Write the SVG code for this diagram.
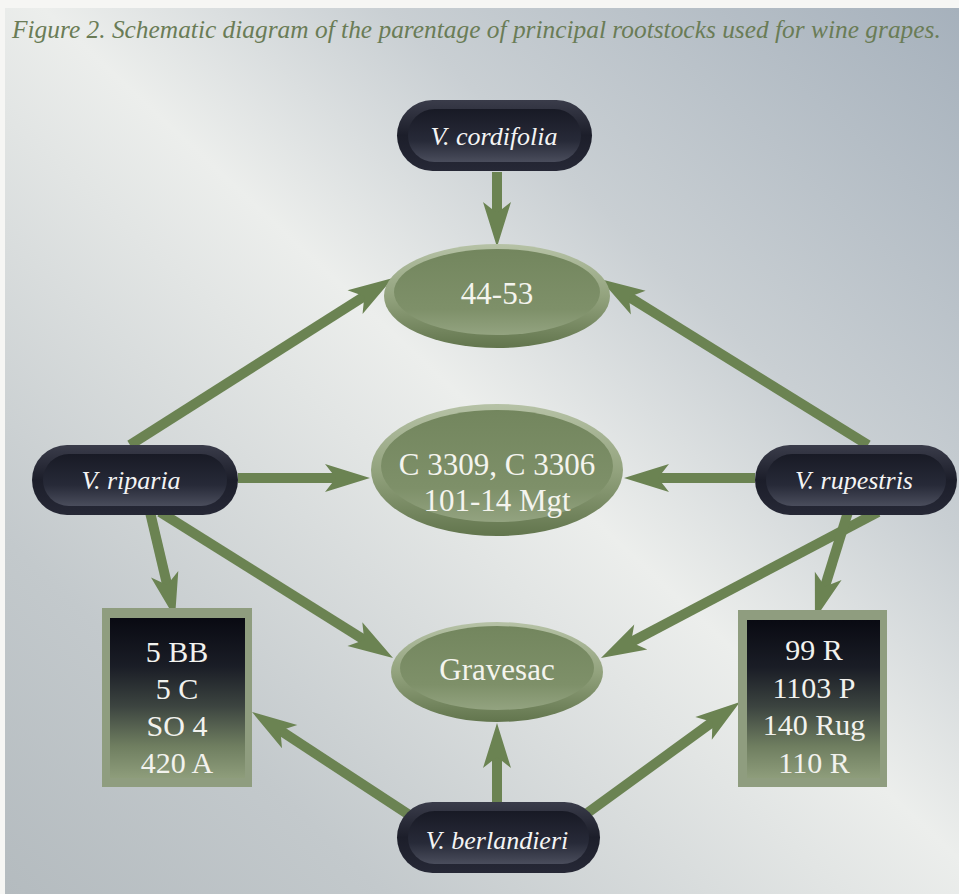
<svg xmlns="http://www.w3.org/2000/svg" width="959" height="894" viewBox="0 0 959 894">
<defs>
<linearGradient id="bg" x1="1" y1="0" x2="0" y2="1">
<stop offset="0" stop-color="#a6b1bc"/>
<stop offset="0.3" stop-color="#c9cfd3"/>
<stop offset="0.48" stop-color="#eceeec"/>
<stop offset="0.56" stop-color="#e2e5e4"/>
<stop offset="0.8" stop-color="#c3c9cc"/>
<stop offset="1" stop-color="#b4bbbf"/>
</linearGradient>
<linearGradient id="pillOuter" x1="0" y1="0" x2="0" y2="1">
<stop offset="0" stop-color="#3a3c4a"/>
<stop offset="0.5" stop-color="#1c1e2a"/>
<stop offset="1" stop-color="#262836"/>
</linearGradient>
<linearGradient id="pillInner" x1="0" y1="0" x2="0" y2="1">
<stop offset="0" stop-color="#181a25"/>
<stop offset="0.6" stop-color="#272a38"/>
<stop offset="1" stop-color="#4a4d5c"/>
</linearGradient>
<linearGradient id="ellOuter" x1="0" y1="0" x2="0" y2="1">
<stop offset="0" stop-color="#b6c2a6"/>
<stop offset="0.5" stop-color="#93a37e"/>
<stop offset="1" stop-color="#62754d"/>
</linearGradient>
<linearGradient id="ellInner" x1="0" y1="0" x2="0" y2="1">
<stop offset="0" stop-color="#73865e"/>
<stop offset="0.7" stop-color="#7e9069"/>
<stop offset="1" stop-color="#93a380"/>
</linearGradient>
<linearGradient id="boxInner" x1="0" y1="0" x2="0" y2="1">
<stop offset="0" stop-color="#090a12"/>
<stop offset="0.3" stop-color="#1a1d26"/>
<stop offset="0.55" stop-color="#3c4440"/>
<stop offset="0.8" stop-color="#6f7e60"/>
<stop offset="1" stop-color="#8e9d7b"/>
</linearGradient>
<marker id="ah" viewBox="-16 -15 48 30" markerWidth="48" markerHeight="30" refX="0" refY="0" orient="auto" markerUnits="userSpaceOnUse">
<path d="M30,0 L-15,-14 L-4,0 L-15,14 Z" fill="#6b8352"/>
</marker>
<style>
.conn line{stroke:#6b8352;stroke-width:10;marker-end:url(#ah)}
.pt{font-family:"Liberation Serif",serif;font-style:italic;font-size:26px;fill:#f4f4f4;text-anchor:middle}
.et{font-family:"Liberation Serif",serif;font-size:31px;fill:#f4f4ee;text-anchor:middle}
.bt{font-family:"Liberation Serif",serif;font-size:30px;fill:#f2f2ee;text-anchor:middle}
.tt{font-family:"Liberation Serif",serif;font-style:italic;font-size:25.4px;fill:#6a7c56}
.po{fill:url(#pillOuter)}
.pi{fill:url(#pillInner)}
.eo{fill:url(#ellOuter)}
.ei{fill:url(#ellInner)}
.bo{fill:#8f9d7f}
.bi{fill:url(#boxInner)}
</style>
</defs>
<rect x="0" y="0" width="959" height="894" fill="#f6f6f4"/>
<rect x="5" y="8" width="954" height="886" fill="url(#bg)"/>
<text class="tt" x="12" y="38">Figure 2. Schematic diagram of the parentage of principal rootstocks used for wine grapes.</text>

<g id="connectors" class="conn">
<line x1="497" y1="172" x2="497" y2="217"/>
<line x1="130" y1="445" x2="367.7" y2="294.1"/>
<line x1="868" y1="445" x2="625.5" y2="294.8"/>
<line x1="238" y1="478" x2="340" y2="478"/>
<line x1="755" y1="478" x2="654" y2="478"/>
<line x1="150" y1="512" x2="168.1" y2="588.8"/>
<line x1="160" y1="512" x2="367.6" y2="642.1"/>
<line x1="878" y1="512" x2="627.5" y2="644"/>
<line x1="848" y1="512" x2="823.8" y2="590.3"/>
<line x1="497" y1="802" x2="497" y2="753"/>
<line x1="420" y1="822" x2="277.1" y2="728.4"/>
<line x1="575" y1="822" x2="715.7" y2="719.6"/>
</g>

<g id="cordifolia">
<rect class="po" x="397" y="100" width="195" height="71" rx="35.5"/>
<rect class="pi" x="408" y="109" width="173" height="53" rx="26.5"/>
<text class="pt" x="494" y="145">V. cordifolia</text>
</g>
<g id="riparia">
<rect class="po" x="32" y="445" width="206" height="70" rx="35"/>
<rect class="pi" x="43" y="454" width="184" height="52" rx="26"/>
<text class="pt" x="131" y="489">V. riparia</text>
</g>
<g id="rupestris">
<rect class="po" x="755" y="445" width="202" height="70" rx="35"/>
<rect class="pi" x="766" y="454" width="180" height="52" rx="26"/>
<text class="pt" x="854" y="489">V. rupestris</text>
</g>
<g id="berlandieri">
<rect class="po" x="397" y="802" width="203" height="71" rx="35.5"/>
<rect class="pi" x="408" y="811" width="181" height="53" rx="26.5"/>
<text class="pt" x="497" y="849">V. berlandieri</text>
</g>

<g id="n4453">
<ellipse class="eo" cx="497" cy="296" rx="113" ry="52"/>
<ellipse class="ei" cx="497" cy="292" rx="103" ry="43"/>
<text class="et" x="497" y="304">44-53</text>
</g>
<g id="nC3309">
<ellipse class="eo" cx="497" cy="470" rx="126" ry="66"/>
<ellipse class="ei" cx="497" cy="466" rx="116" ry="56"/>
<text class="et" x="497" y="475">C 3309, C 3306</text>
<text class="et" x="497" y="511">101-14 Mgt</text>
</g>
<g id="gravesac">
<ellipse class="eo" cx="497" cy="672" rx="106" ry="50"/>
<ellipse class="ei" cx="497" cy="668" rx="97" ry="42"/>
<text class="et" x="497" y="680">Gravesac</text>
</g>

<g id="leftbox">
<rect class="bo" x="102" y="608" width="150" height="179"/>
<rect class="bi" x="110" y="618" width="135" height="160"/>
<text class="bt" x="177" y="662">5 BB</text>
<text class="bt" x="177" y="699">5 C</text>
<text class="bt" x="177" y="736">SO 4</text>
<text class="bt" x="177" y="773">420 A</text>
</g>
<g id="rightbox">
<rect class="bo" x="738" y="610" width="149" height="177"/>
<rect class="bi" x="747" y="620" width="133" height="158"/>
<text class="bt" x="814" y="660">99 R</text>
<text class="bt" x="814" y="698">1103 P</text>
<text class="bt" x="814" y="735">140 Rug</text>
<text class="bt" x="814" y="773">110 R</text>
</g>
</svg>
